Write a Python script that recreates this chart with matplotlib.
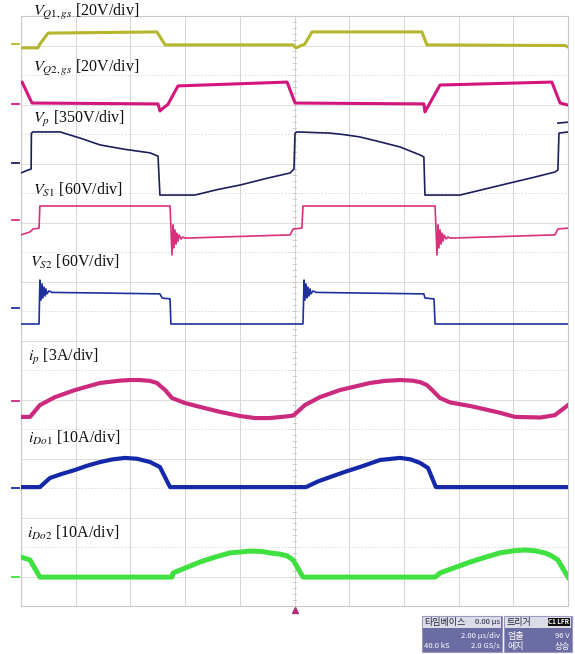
import numpy as np
import matplotlib
matplotlib.use("Agg")
import matplotlib.pyplot as plt
from matplotlib.patches import Rectangle

plt.rcParams['font.family'] = ['Liberation Serif', 'DejaVu Serif']
plt.rcParams['mathtext.fontset'] = 'stix'

# time axis in us (2 us/div, 10 div), vertical axis in screen divisions (0..20)
# ---- V_Q1,gs
t_q1 = [0, 0.62, 0.69, 0.99, 4.97, 5.27, 9.95, 10.05, 10.38, 10.64, 14.66, 14.84, 19.89, 20.0]
v_q1 = [18.92, 18.92, 19.05, 19.42, 19.46, 19.02, 19.02, 18.92, 19.05, 19.46, 19.46, 19.02, 19.0, 18.95]
# ---- V_Q2,gs
t_q2 = [0, 0.04, 0.40, 5.01, 5.08, 5.16, 5.37, 5.74, 9.73, 10.02, 14.73, 14.77, 15.32, 19.41, 19.71, 20.0]
v_q2 = [17.76, 17.76, 17.05, 17.02, 16.78, 16.85, 17.0, 17.63, 17.76, 17.05, 17.02, 16.75, 17.66, 17.76, 17.05, 16.98]
# ---- V_p
t_vp = [0, 0.26, 0.37, 0.38, 0.44, 1.43, 2.2, 2.89, 3.8, 4.72, 5.01, 5.08, 6.36, 7.2, 8.01, 9.0, 9.84, 9.98,
        10.02, 10.09, 11.30, 11.8, 12.39, 13.1, 13.86, 14.59, 14.73, 14.77, 16.05, 16.9, 17.88, 18.7,
        19.52, 19.63, 19.67, 20.0]
v_vp = [14.68, 14.78, 14.81, 16.03, 16.07, 16.07, 15.85, 15.63, 15.48, 15.36, 15.25, 13.93, 13.93, 14.12,
        14.27, 14.5, 14.68, 14.81, 16.03, 16.07, 16.03, 15.98, 15.90, 15.74, 15.56, 15.29, 15.22, 13.93,
        13.93, 14.12, 14.34, 14.52, 14.71, 14.78, 16.03, 16.07]
t_vp2 = [19.63, 20.0]
v_vp2 = [16.37, 16.40]
# ---- V_S1
t_s1 = [0, 0.33, 0.44, 0.66, 0.69, 5.45, 5.52, 5.56, 5.59, 5.63, 5.67, 5.70, 5.74, 5.78, 5.85, 5.92, 6.00,
        9.84, 9.95, 10.27, 10.31, 15.14, 15.21, 15.25, 15.28, 15.32, 15.36, 15.39, 15.43, 15.47, 15.54,
        15.61, 15.69, 19.52, 19.63, 20.0]
v_s1 = [12.58, 12.68, 12.78, 12.81, 13.56, 13.56, 11.90, 12.92, 12.14, 12.75, 12.27, 12.64, 12.37, 12.58,
        12.44, 12.51, 12.47, 12.58, 12.78, 12.81, 13.56, 13.56, 11.90, 12.92, 12.14, 12.75, 12.27, 12.64,
        12.37, 12.58, 12.44, 12.51, 12.47, 12.58, 12.78, 12.81]
# ---- V_S2
t_s2 = [0, 0.66, 0.69, 0.73, 0.77, 0.80, 0.84, 0.88, 0.91, 0.95, 1.02, 1.13, 2.89, 5.08, 5.16, 5.45, 5.48,
        10.31, 10.35, 10.38, 10.42, 10.46, 10.49, 10.53, 10.57, 10.60, 10.68, 10.79, 12.39, 14.73, 14.77,
        15.10, 15.14, 20.0]
v_s2 = [9.56, 9.56, 11.05, 10.37, 10.92, 10.44, 10.81, 10.51, 10.75, 10.58, 10.68, 10.63, 10.61, 10.58,
        10.44, 10.41, 9.56, 9.56, 11.05, 10.37, 10.92, 10.44, 10.81, 10.51, 10.75, 10.58, 10.68, 10.63,
        10.61, 10.58, 10.44, 10.41, 9.56, 9.56]
# ---- i_p
t_ip = [0, 0.33, 0.69, 1.24, 1.97, 2.89, 3.62, 3.99, 4.35, 4.72, 4.97, 5.27, 5.52, 6.00, 6.54, 7.28, 8.01,
        8.56, 9.10, 9.84, 9.98, 10.38, 10.93, 11.66, 12.76, 13.31, 13.86, 14.30, 14.59, 14.84, 15.0, 15.32,
        15.69, 16.42, 17.0, 17.51, 18.06, 19.0, 19.52, 20.0]
v_ip = [6.41, 6.41, 6.81, 7.08, 7.32, 7.56, 7.64, 7.66, 7.66, 7.63, 7.56, 7.32, 7.05, 6.88, 6.75, 6.58, 6.44,
        6.37, 6.37, 6.44, 6.47, 6.81, 7.08, 7.32, 7.56, 7.63, 7.66, 7.64, 7.59, 7.49, 7.35, 7.05,
        6.90, 6.78, 6.66, 6.55, 6.41, 6.39, 6.47, 6.81]
# ---- i_Do1
t_d1 = [0, 0.69, 1.06, 1.5, 1.97, 2.4, 2.89, 3.35, 3.80, 4.25, 4.72, 5.08, 5.45, 10.42, 10.85, 11.30,
        11.85, 12.39, 13.13, 13.86, 14.25, 14.59, 14.88, 15.17, 20.0]
v_d1 = [4.03, 4.03, 4.34, 4.48, 4.61, 4.75, 4.88, 4.97, 5.02, 4.99, 4.88, 4.71, 4.03, 4.03, 4.22, 4.37,
        4.55, 4.71, 4.95, 5.02, 4.97, 4.85, 4.68, 4.03, 4.03]
# ---- i_Do2
t_d2 = [0, 0.33, 0.69, 5.52, 5.56, 6.54, 7.1, 7.64, 8.37, 8.8, 9.10, 9.45, 9.73, 9.95, 10.31, 15.14, 15.32,
        16.42, 17.0, 17.51, 18.0, 18.43, 18.8, 19.16, 19.4, 19.63, 20.0]
v_d2 = [1.66, 1.56, 0.98, 0.98, 1.12, 1.49, 1.66, 1.80, 1.86, 1.85, 1.80, 1.76, 1.70, 1.56, 0.98, 0.98, 1.12,
        1.49, 1.66, 1.80, 1.87, 1.90, 1.87, 1.80, 1.70, 1.56, 0.98]

ground = [19.05, 17.02, 15.02, 13.08, 10.10, 6.95, 4.00, 0.98]
labels = [r'$V_{Q1,gs}$ [20V/div]', r'$V_{Q2,gs}$ [20V/div]', r'$V_p$ [350V/div]',
          r'$V_{S1}$ [60V/div]', r'$V_{S2}$ [60V/div]', r'$i_p$ [3A/div]',
          r'$i_{Do1}$ [10A/div]', r'$i_{Do2}$ [10A/div]']
label_t = [0.44, 0.44, 0.44, 0.44, 0.33, 0.26, 0.26, 0.22]
label_y = [20.14, 18.24, 16.51, 14.10, 11.66, 8.44, 5.69, 2.47]

colors = ['#b5b52e', '#d4157e', '#1e1e5c', '#d8307a', '#1f2f9c', '#cc2a7c', '#1428a8', '#3fe03f']
widths = [2.2, 2.2, 1.2, 1.2, 1.2, 3.0, 3.0, 3.6]
traces = [(t_q1, v_q1), (t_q2, v_q2), (t_vp, v_vp), (t_s1, v_s1), (t_s2, v_s2),
          (t_ip, v_ip), (t_d1, v_d1), (t_d2, v_d2)]

fig = plt.figure(figsize=(5.75, 6.54), dpi=100)
ax = fig.add_axes([21 / 575, 48 / 654, 547 / 575, 590 / 654])
ax.set_xlim(0, 20)
ax.set_ylim(0, 20)
ax.set_xticks([])
ax.set_yticks([])
for s in ax.spines.values():
    s.set_color('#c8c8c8')
    s.set_linewidth(0.8)

# scope graticule
for x in np.arange(2, 20, 2):
    ax.axvline(x, color='#d4d4d4', lw=0.7, zorder=0)
for y in range(1, 20):
    ax.axhline(y, color='#d8d8d8', lw=0.6, ls='-' if y % 2 else (0, (2, 2)), zorder=0)
# minor ticks on the centre line
for y in np.arange(0.2, 20, 0.2):
    ax.plot([9.93, 10.07], [y, y], color='#c0c0c0', lw=0.6, zorder=0)

for (t, v), c, w in zip(traces, colors, widths):
    ax.plot(t, v, color=c, lw=w, solid_joinstyle='round', zorder=3)
ax.plot(t_vp2, v_vp2, color=colors[2], lw=1.2, zorder=3)

for g, c in zip(ground, colors):
    ax.plot([-0.33, -0.06], [g, g], color=c, lw=1.3, clip_on=False)

for lab, tx, ty in zip(labels, label_t, label_y):
    ax.text(tx, ty, lab, fontsize=11.5, va='center', ha='left', color='#111111', zorder=5)

# trigger position marker
ax.plot([10], [-0.15], marker='^', color='#b0307a', ms=5, clip_on=False)

# info boxes (figure pixel coords, origin top-left)
def px(x, y):
    return x / 575, 1 - y / 654

kfont = ['Noto Sans CJK KR', 'DejaVu Sans']
purple = '#6c6ca4'
for x0, x1 in [(422, 502), (504, 572)]:
    fig.patches.append(Rectangle(px(x0, 652), (x1 - x0) / 575, 36 / 654, transform=fig.transFigure,
                                 facecolor=purple, edgecolor='#9a9ac0', lw=0.8))
    fig.patches.append(Rectangle(px(x0 + 1, 628), (x1 - x0 - 2) / 575, 11 / 654, transform=fig.transFigure,
                                 facecolor='#dcdce6', edgecolor='none'))
fig.patches.append(Rectangle(px(548, 626), 22 / 575, 8 / 654, transform=fig.transFigure,
                             facecolor='#111111', edgecolor='none'))

fig.text(*px(424, 622), '타임베이스', family=kfont, fontsize=6.5, color='#222244', va='center')
fig.text(*px(500, 622), '0.00 µs', family=kfont, fontsize=5.5, color='#222244', va='center', ha='right')
fig.text(*px(500, 636), '2.00 µs/div', family=kfont, fontsize=5.5, color='white', va='center', ha='right')
fig.text(*px(424, 646), '40.0 kS', family=kfont, fontsize=5.5, color='white', va='center')
fig.text(*px(500, 646), '2.0 GS/s', family=kfont, fontsize=5.5, color='white', va='center', ha='right')
fig.text(*px(507, 622), '트리거', family=kfont, fontsize=6.5, color='#222244', va='center')
fig.text(*px(559, 622), 'C1 LFR', family=kfont, fontsize=4.5, color='white', va='center', ha='center',
         weight='bold')
fig.text(*px(507, 636), '엄출', family=kfont, fontsize=6.5, color='white', va='center')
fig.text(*px(570, 636), '96 V', family=kfont, fontsize=5.5, color='white', va='center', ha='right')
fig.text(*px(507, 647), '에지', family=kfont, fontsize=6.5, color='white', va='center')
fig.text(*px(570, 647), '상승', family=kfont, fontsize=6, color='white', va='center', ha='right')

fig.savefig('out.png', dpi=100)
